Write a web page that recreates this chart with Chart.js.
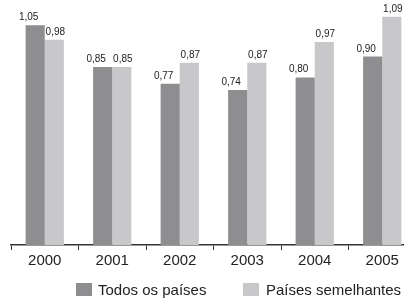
<!DOCTYPE html>
<html>
<head>
<meta charset="utf-8">
<script src="https://cdn.jsdelivr.net/npm/chart.js@4/dist/chart.umd.min.js"></script>
<style>
  html, body { margin: 0; padding: 0; background: #fff; }
  body { width: 407px; height: 298px; position: relative; overflow: hidden; font-family: "Liberation Sans", Arial, sans-serif; }
  #wrap { position: absolute; left: 0; top: 0; width: 404px; height: 298px; overflow: hidden; }
  #c { display: block; }
  .lg-box { position: absolute; top: 283px; width: 15.5px; height: 13px; }
  .lg-txt { position: absolute; top: 281px; font-size: 15px; color: #222; white-space: nowrap; line-height: normal; }
</style>
</head>
<body>
<div id="wrap"><canvas id="c" width="418" height="298"></canvas></div>
<div class="lg-box" style="left:76px;background:#8e8e90"></div>
<div class="lg-txt" style="left:98px">Todos os países</div>
<div class="lg-box" style="left:243px;background:#c8c8ca"></div>
<div class="lg-txt" style="left:266px">Países semelhantes</div>
<script>
const categories = ['2000', '2001', '2002', '2003', '2004', '2005'];
const todosPaises = [1.05, 0.85, 0.77, 0.74, 0.80, 0.90];
const paisesSemelhantes = [0.98, 0.85, 0.87, 0.87, 0.97, 1.09];
const seriesNames = ['Todos os países', 'Países semelhantes'];

const DARK = '#8e8e90';
const LIGHT = '#c8c8ca';

const valueLabels = {
  id: 'valueLabels',
  afterDatasetsDraw(chart) {
    const ctx = chart.ctx;
    ctx.save();
    ctx.font = '10px "Liberation Sans", Arial, sans-serif';
    ctx.fillStyle = '#222';
    ctx.textAlign = 'center';
    ctx.textBaseline = 'alphabetic';
    const offsets = [-6.5, 1];
    chart.data.datasets.forEach((ds, di) => {
      const meta = chart.getDatasetMeta(di);
      meta.data.forEach((bar, i) => {
        const txt = ds.data[i].toFixed(2).replace('.', ',');
        ctx.fillText(txt, bar.x + offsets[di], bar.y - 5);
      });
    });
    ctx.restore();
  }
};

new Chart(document.getElementById('c'), {
  type: 'bar',
  data: {
    labels: categories,
    datasets: [
      { label: seriesNames[0], data: todosPaises, backgroundColor: DARK, borderWidth: 0 },
      { label: seriesNames[1], data: paisesSemelhantes, backgroundColor: LIGHT, borderWidth: 0 }
    ]
  },
  options: {
    responsive: false,
    devicePixelRatio: 1,
    animation: false,
    layout: { padding: { left: 11, right: 2, top: 0, bottom: 26 } },
    plugins: {
      legend: { display: false },
      tooltip: { enabled: false }
    },
    datasets: { bar: { categoryPercentage: 0.567, barPercentage: 1 } },
    scales: {
      x: {
        grid: { offset: true, drawOnChartArea: false, drawTicks: true, tickLength: 5, color: '#333', lineWidth: 1 },
        border: { display: true, color: '#333', width: 1.5 },
        ticks: { font: { size: 15, family: '"Liberation Sans", Arial, sans-serif' }, color: '#222', padding: 2 }
      },
      y: { display: false, min: 0, max: 1.17 }
    }
  },
  plugins: [valueLabels]
});
</script>
</body>
</html>
